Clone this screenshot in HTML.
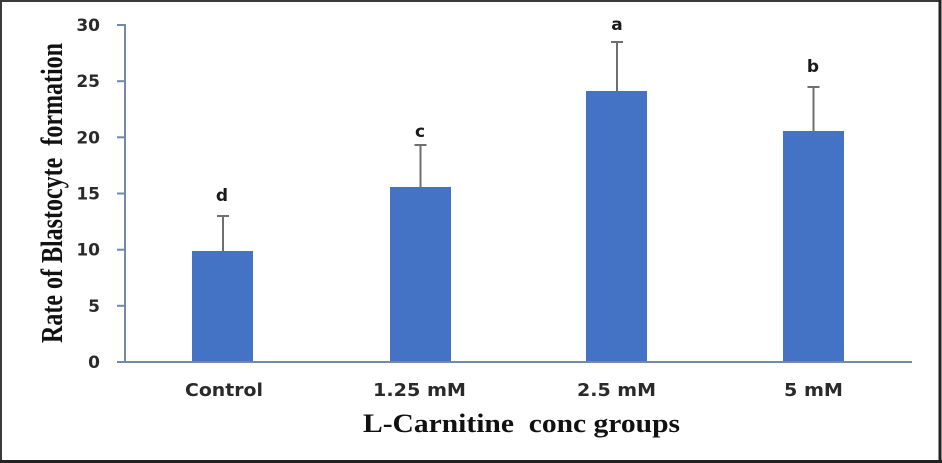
<!DOCTYPE html>
<html><head><meta charset="utf-8"><style>
html,body{margin:0;padding:0;background:#fff;}
svg{display:block;}
</style></head><body>
<svg width="942" height="463" viewBox="0 0 942 463" xmlns="http://www.w3.org/2000/svg">
<rect x="0" y="0" width="942" height="463" fill="#fff"/>
<!-- frame -->
<rect x="1" y="1" width="938.5" height="460" fill="none" stroke="#3a3a3a" stroke-width="2"/>
<line x1="940" y1="0" x2="940" y2="463" stroke="#222" stroke-width="3"/>
<line x1="0" y1="461.5" x2="942" y2="461.5" stroke="#222" stroke-width="3"/>
<!-- bars -->
<g fill="#4472C4">
<rect x="192" y="251" width="61" height="111"/>
<rect x="390" y="187" width="61" height="175"/>
<rect x="586" y="91" width="61" height="271"/>
<rect x="783" y="131" width="61" height="231"/>
</g>
<!-- error bars -->
<g stroke="#6f6f6f" stroke-width="2" fill="none">
<line x1="223" y1="251" x2="223" y2="216"/><line x1="217" y1="216" x2="229" y2="216"/>
<line x1="420.5" y1="187" x2="420.5" y2="145"/><line x1="414.5" y1="145" x2="426.5" y2="145"/>
<line x1="617" y1="91" x2="617" y2="42"/><line x1="611" y1="42" x2="623" y2="42"/>
<line x1="813.5" y1="131" x2="813.5" y2="87"/><line x1="807.5" y1="87" x2="819.5" y2="87"/>
</g>
<!-- axes -->
<g stroke="#7389a8" stroke-width="2">
<line x1="125" y1="24" x2="125" y2="363"/>
<line x1="117" y1="362" x2="912" y2="362"/>
<line x1="117" y1="25" x2="125" y2="25"/>
<line x1="117" y1="81.2" x2="125" y2="81.2"/>
<line x1="117" y1="137.3" x2="125" y2="137.3"/>
<line x1="117" y1="193.5" x2="125" y2="193.5"/>
<line x1="117" y1="249.7" x2="125" y2="249.7"/>
<line x1="117" y1="305.8" x2="125" y2="305.8"/>
</g>
<!-- tick labels -->
<g font-family="'DejaVu Sans', 'Liberation Sans', sans-serif" font-weight="bold" font-size="17" fill="#2a2a2a" text-anchor="end">
<text x="100" y="31">30</text>
<text x="100" y="87.2">25</text>
<text x="100" y="143.3">20</text>
<text x="100" y="199.5">15</text>
<text x="100" y="255.7">10</text>
<text x="100" y="311.8">5</text>
<text x="100" y="368">0</text>
</g>
<!-- category labels -->
<g font-family="'DejaVu Sans', 'Liberation Sans', sans-serif" font-weight="bold" font-size="18" fill="#2a2a2a" text-anchor="middle">
<text x="224" y="396" textLength="78" lengthAdjust="spacingAndGlyphs">Control</text>
<text x="419.5" y="396" textLength="93" lengthAdjust="spacingAndGlyphs">1.25 mM</text>
<text x="616.5" y="396" textLength="79" lengthAdjust="spacingAndGlyphs">2.5 mM</text>
<text x="813.5" y="396" textLength="59" lengthAdjust="spacingAndGlyphs">5 mM</text>
</g>
<!-- significance letters -->
<g font-family="'DejaVu Sans', 'Liberation Sans', sans-serif" font-weight="bold" font-size="17" fill="#1a1a1a" text-anchor="middle">
<text x="222" y="201">d</text>
<text x="420" y="137">c</text>
<text x="617" y="30">a</text>
<text x="813" y="72">b</text>
</g>
<!-- axis titles -->
<text x="363" y="432" font-family="'Liberation Serif', serif" font-weight="bold" font-size="26" fill="#111" textLength="317" lengthAdjust="spacingAndGlyphs" xml:space="preserve">L-Carnitine  conc groups</text>
<text transform="translate(62,343) rotate(-90)" x="0" y="0" font-family="'Liberation Serif', serif" font-weight="bold" font-size="31" fill="#111" textLength="300" lengthAdjust="spacingAndGlyphs" xml:space="preserve">Rate of Blastocyte  formation</text>
</svg>
</body></html>
